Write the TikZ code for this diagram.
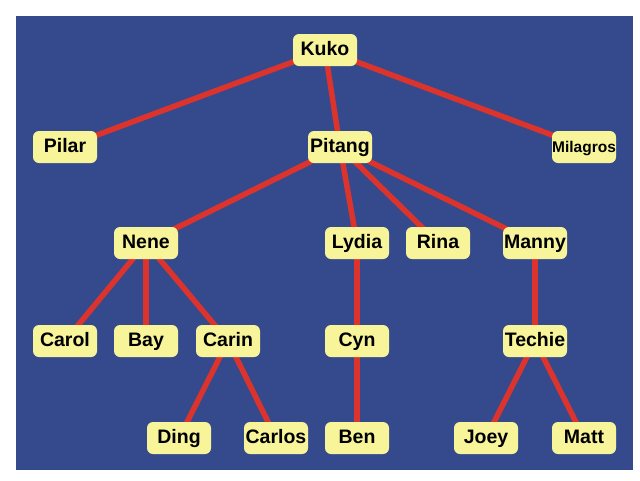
\documentclass[tikz,border=0pt]{standalone}
\usepackage{fontspec}
\setmainfont{Liberation Sans}
\usetikzlibrary{positioning}

\definecolor{bgblue}{RGB}{53,74,140}
\definecolor{linkred}{RGB}{221,51,45}
\definecolor{nameyellow}{RGB}{247,244,153}

\pgfdeclarelayer{bg}
\pgfsetlayers{bg,main}

\begin{document}
\begin{tikzpicture}[
  x=1pt, y=-1pt,
  person/.style={fill=nameyellow, rounded corners=6pt, minimum width=64pt, minimum height=32pt, inner sep=0pt, text height=14pt, text depth=4pt, text=black, font=\fontsize{19.5}{20}\selectfont\bfseries},
  link/.style={draw=linkred, line width=5.5pt}
]
\useasboundingbox (0,0) rectangle (640,480);

\node[person] (kuko) at (325,50) {Kuko};

\node[person] (pilar) at (65,147) {Pilar};
\node[person] (pitang) at (340,147) {Pitang};
\node[person, font=\fontsize{15.5}{16}\selectfont\bfseries] (milagros) at (584,147) {Milagros};

\node[person] (nene) at (146,243) {Nene};
\node[person] (lydia) at (357,243) {Lydia};
\node[person] (rina) at (438,243) {Rina};
\node[person] (manny) at (535,243) {Manny};

\node[person] (carol) at (65,341) {Carol};
\node[person] (bay) at (146,341) {Bay};
\node[person] (carin) at (228,341) {Carin};
\node[person] (cyn) at (357,341) {Cyn};
\node[person] (techie) at (535,341) {Techie};

\node[person] (ding) at (179,438) {Ding};
\node[person] (carlos) at (276,438) {Carlos};
\node[person] (ben) at (357,438) {Ben};
\node[person] (joey) at (486,438) {Joey};
\node[person] (matt) at (584,438) {Matt};

\begin{pgfonlayer}{bg}
\fill[bgblue] (16,16) rectangle (633,470);

\draw[link] (kuko.center) -- (pilar.center);
\draw[link] (kuko.center) -- (pitang.center);
\draw[link] (kuko.center) -- (milagros.center);

\draw[link] (pitang.center) -- (nene.center);
\draw[link] (pitang.center) -- (lydia.center);
\draw[link] (pitang.center) -- (rina.center);
\draw[link] (pitang.center) -- (manny.center);

\draw[link] (nene.center) -- (carol.center);
\draw[link] (nene.center) -- (bay.center);
\draw[link] (nene.center) -- (carin.center);
\draw[link] (lydia.center) -- (cyn.center);
\draw[link] (manny.center) -- (techie.center);

\draw[link] (carin.center) -- (ding.center);
\draw[link] (carin.center) -- (carlos.center);
\draw[link] (cyn.center) -- (ben.center);
\draw[link] (techie.center) -- (joey.center);
\draw[link] (techie.center) -- (matt.center);
\end{pgfonlayer}

\end{tikzpicture}
\end{document}
